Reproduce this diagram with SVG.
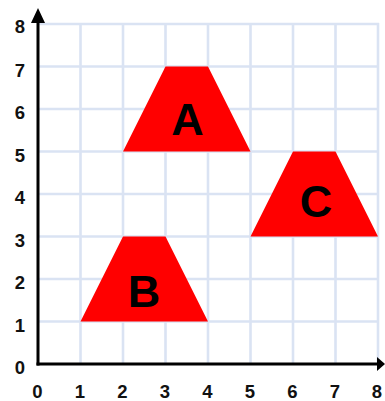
<svg xmlns="http://www.w3.org/2000/svg" width="385" height="401" viewBox="0 0 385 401">
<style>
.grid line{stroke:#dae3f3;stroke-width:2.6}
.axis{stroke:#000;stroke-width:3}
.num{font-family:"Liberation Sans",Arial,sans-serif;font-weight:bold;font-size:18.5px;fill:#111;text-anchor:middle}
.shape{fill:#ff0000}
.lbl{font-family:"Liberation Sans",Arial,sans-serif;font-weight:bold;font-size:45px;fill:#000;text-anchor:middle}
</style>
<rect width="385" height="401" fill="#fff"/>
<g class="grid">
<line x1="80.5" y1="23" x2="80.5" y2="364"/>
<line x1="123" y1="23" x2="123" y2="364"/>
<line x1="165.5" y1="23" x2="165.5" y2="364"/>
<line x1="208" y1="23" x2="208" y2="364"/>
<line x1="250.5" y1="23" x2="250.5" y2="364"/>
<line x1="293" y1="23" x2="293" y2="364"/>
<line x1="335.5" y1="23" x2="335.5" y2="364"/>
<line x1="378" y1="23" x2="378" y2="364"/>
<line x1="38" y1="24" x2="379" y2="24"/>
<line x1="38" y1="66.5" x2="379" y2="66.5"/>
<line x1="38" y1="109" x2="379" y2="109"/>
<line x1="38" y1="151.5" x2="379" y2="151.5"/>
<line x1="38" y1="194" x2="379" y2="194"/>
<line x1="38" y1="236.5" x2="379" y2="236.5"/>
<line x1="38" y1="279" x2="379" y2="279"/>
<line x1="38" y1="321.5" x2="379" y2="321.5"/>
</g>
<g id="axes">
<line class="axis" x1="38" y1="365.5" x2="38" y2="20"/>
<polygon points="31,23 45,23 38,8" fill="#000"/>
<line class="axis" x1="36.5" y1="364" x2="380" y2="364"/>
<polygon points="377,357 377,371 385,364" fill="#000"/>
</g>
<g id="ylabels">
<text class="num" x="20" y="374">0</text>
<text class="num" x="20" y="331.5">1</text>
<text class="num" x="20" y="289">2</text>
<text class="num" x="20" y="246.5">3</text>
<text class="num" x="20" y="204">4</text>
<text class="num" x="20" y="161.5">5</text>
<text class="num" x="20" y="119">6</text>
<text class="num" x="20" y="76.5">7</text>
<text class="num" x="20" y="33">8</text>
</g>
<g id="xlabels">
<text class="num" x="37.5" y="398">0</text>
<text class="num" x="80" y="398">1</text>
<text class="num" x="122.5" y="398">2</text>
<text class="num" x="165" y="398">3</text>
<text class="num" x="207.5" y="398">4</text>
<text class="num" x="250" y="398">5</text>
<text class="num" x="292.5" y="398">6</text>
<text class="num" x="335" y="398">7</text>
<text class="num" x="377" y="398">8</text>
</g>
<g id="shapeA">
<polygon class="shape" points="123,151.5 250.5,151.5 208,66.5 165.5,66.5"/>
<text class="lbl" x="187.5" y="135">A</text>
</g>
<g id="shapeB">
<polygon class="shape" points="80.5,321.5 208,321.5 165.5,236.5 123,236.5"/>
<text class="lbl" x="144" y="307">B</text>
</g>
<g id="shapeC">
<polygon class="shape" points="250.5,236.5 378,236.5 335.5,151.5 293,151.5"/>
<text class="lbl" x="316" y="216.5">C</text>
</g>
</svg>
